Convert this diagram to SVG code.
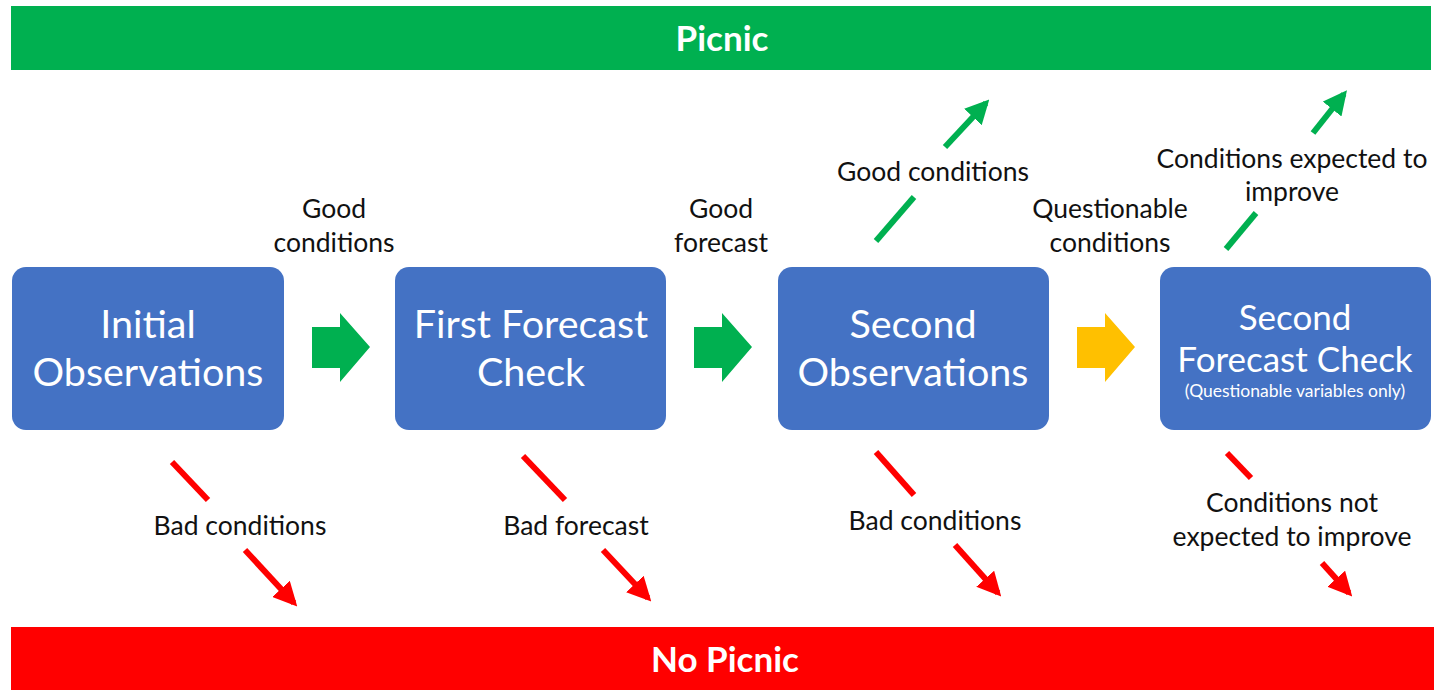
<svg xmlns="http://www.w3.org/2000/svg" width="1434" height="690" viewBox="0 0 1434 690">
<defs>
<style>
.box{fill:#4472C4}
.bt{font-family:Lato,"Open Sans",sans-serif;fill:#fff;font-size:39.5px;text-anchor:middle}
.lb{font-family:Lato,"Open Sans",sans-serif;fill:#111;font-size:26.5px;text-anchor:middle}
.bar{font-family:Lato,"Open Sans",sans-serif;fill:#fff;font-size:35px;font-weight:bold;text-anchor:middle}
.g{stroke:#00B050;stroke-width:6;fill:none}
.r{stroke:#FF0000;stroke-width:6;fill:none}
</style>
<marker id="mg" viewBox="0 0 10 10" refX="8" refY="5" markerWidth="24" markerHeight="24" markerUnits="userSpaceOnUse" orient="auto"><path d="M0,0 L10,5 L0,10 z" fill="#00B050"/></marker>
<marker id="mr" viewBox="0 0 10 10" refX="8" refY="5" markerWidth="24" markerHeight="24" markerUnits="userSpaceOnUse" orient="auto"><path d="M0,0 L10,5 L0,10 z" fill="#FF0000"/></marker>
</defs>
<rect width="1434" height="690" fill="#fff"/>
<g id="picnic"><rect x="11" y="6" width="1420" height="64" fill="#00B050"/><text class="bar" x="722" y="51">Picnic</text></g>
<g id="nopicnic"><rect x="11" y="627" width="1423" height="63" fill="#FF0000"/><text class="bar" x="725" y="672">No Picnic</text></g>
<g id="n1"><rect class="box" x="12" y="267" width="272" height="163" rx="14"/><text class="bt" x="148" y="338">Initial</text><text class="bt" x="148" y="386">Observations</text></g>
<g id="n2"><rect class="box" x="395" y="267" width="271" height="163" rx="14"/><text class="bt" x="531" y="338">First Forecast</text><text class="bt" x="531" y="386">Check</text></g>
<g id="n3"><rect class="box" x="778" y="267" width="271" height="163" rx="14"/><text class="bt" x="913" y="338">Second</text><text class="bt" x="913" y="386">Observations</text></g>
<g id="n4"><rect class="box" x="1160" y="267" width="271" height="163" rx="14"/><text class="bt" x="1295" y="330" style="font-size:35px">Second</text><text class="bt" x="1295" y="372" style="font-size:35px">Forecast Check</text><text class="bt" x="1295" y="397" style="font-size:17.5px">(Questionable variables only)</text></g>
<g id="connectors">
<path d="M312,327 H340 V313 L370,347 L340,382 V368 H312 Z" fill="#00B050"/>
<path d="M694,327 H722 V313 L752,347 L722,382 V368 H694 Z" fill="#00B050"/>
<path d="M1077,327 H1105 V313 L1135,347 L1105,382 V368 H1077 Z" fill="#FFC000"/>
<line class="g" x1="876" y1="241" x2="914" y2="197"/>
<line class="g" x1="945" y1="147" x2="986" y2="103" marker-end="url(#mg)"/>
<line class="g" x1="1226" y1="249" x2="1256" y2="213"/>
<line class="g" x1="1313" y1="133" x2="1344" y2="94" marker-end="url(#mg)"/>
<line class="r" x1="172" y1="462" x2="208" y2="500"/>
<line class="r" x1="245" y1="550" x2="294" y2="603" marker-end="url(#mr)"/>
<line class="r" x1="523" y1="456" x2="565" y2="500"/>
<line class="r" x1="603" y1="550" x2="648" y2="598" marker-end="url(#mr)"/>
<line class="r" x1="876" y1="452" x2="914" y2="495"/>
<line class="r" x1="955" y1="545" x2="998" y2="593" marker-end="url(#mr)"/>
<line class="r" x1="1227" y1="453" x2="1251" y2="478"/>
<line class="r" x1="1322" y1="563" x2="1349" y2="593" marker-end="url(#mr)"/>
</g>
<g id="labels">
<text class="lb" x="334" y="218">Good</text><text class="lb" x="334" y="252">conditions</text>
<text class="lb" x="721" y="218">Good</text><text class="lb" x="721" y="252">forecast</text>
<text class="lb" x="933" y="181">Good conditions</text>
<text class="lb" x="1110" y="218">Questionable</text><text class="lb" x="1110" y="252">conditions</text>
<text class="lb" x="1292" y="168">Conditions expected to</text><text class="lb" x="1292" y="201">improve</text>
<text class="lb" x="240" y="535">Bad conditions</text>
<text class="lb" x="576" y="535">Bad forecast</text>
<text class="lb" x="935" y="530">Bad conditions</text>
<text class="lb" x="1292" y="512">Conditions not</text><text class="lb" x="1292" y="546">expected to improve</text>
</g>
</svg>
